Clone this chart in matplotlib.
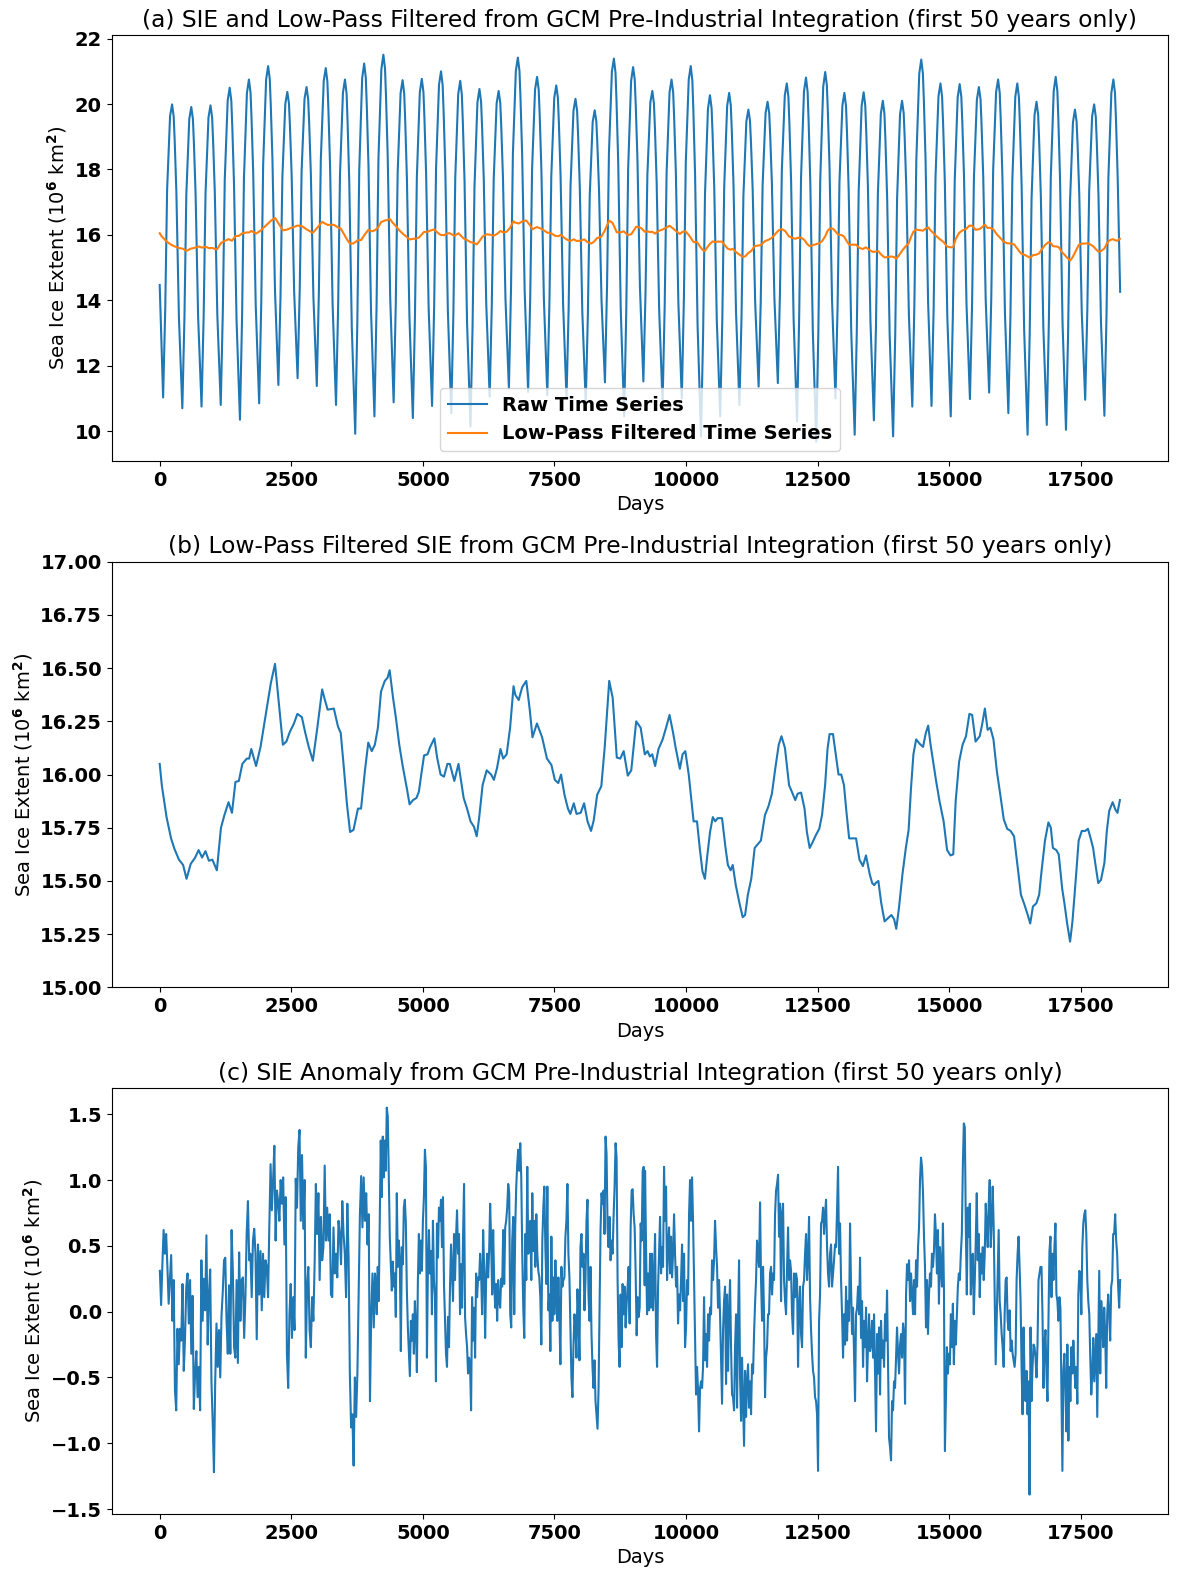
import numpy as np
import matplotlib
matplotlib.use('Agg')
import matplotlib.pyplot as plt

# ---- raw SIE: start value, yearly minima / maxima, end value
raw_start = 14.47
raw_end = 14.26
raw_troughs = [11.03, 10.70, 10.75, 10.80, 10.35, 10.85, 11.41, 11.62, 11.38, 10.80,
               9.92, 10.45, 10.88, 10.40, 10.77, 10.55, 10.14, 11.05, 11.30, 11.20,
               11.10, 11.00, 10.85, 11.49, 10.45,
               11.52, 10.85, 11.00, 9.84, 10.45, 10.80, 11.36, 11.47, 10.30, 9.68,
               11.00, 9.89, 10.33, 9.84, 10.75, 10.77, 10.45, 10.98, 11.18, 10.55,
               9.89, 10.19, 10.04, 10.96, 10.47]
raw_peaks = [19.99, 19.91, 19.96, 20.50, 20.75, 21.16, 20.37, 20.52, 21.10, 20.75,
             21.24, 21.51, 20.73, 20.77, 21.00, 20.71, 20.46, 20.40, 21.42, 20.83,
             20.57, 20.16, 19.81, 21.39, 21.13,
             20.40, 20.75, 21.16, 20.27, 20.34, 19.83, 20.07, 20.63, 20.81, 20.98,
             20.34, 20.36, 20.10, 20.10, 21.36, 20.63, 20.61, 20.52, 20.75, 20.63,
             20.07, 20.83, 19.83, 19.99, 20.75]
first_trough_day = 65
n_days = 18250
# seasonal shape read off the first cycle: days after the yearly minimum and
# position between minimum (0) and maximum (1)
rise_days = [40, 76, 113, 132]
rise_frac = [0.30, 0.71, 0.88, 0.96]
peak_day = 170
fall_days = [201, 220, 252, 300]
fall_frac = [0.96, 0.88, 0.71, 0.30]

# ---- low-pass filtered SIE (panel b)
lp_days = [0, 40, 130, 216, 281, 366, 445, 510, 589, 674, 739, 805, 870, 935, 1001,
           1086, 1164, 1230, 1308, 1373, 1439, 1504, 1570, 1655, 1700, 1740, 1831,
           1916, 2001, 2112, 2191, 2263, 2341, 2407, 2472, 2551, 2616, 2701, 2767,
           2832, 2910, 2995, 3087, 3139, 3191, 3309, 3388, 3440, 3505, 3558, 3617,
           3682, 3767, 3826, 3898, 3963, 4029, 4088, 4146, 4205, 4277, 4330, 4369,
           4434, 4486, 4552, 4617, 4696, 4748, 4813, 4879, 4925, 4970, 5023, 5088,
           5140, 5219, 5271, 5337, 5402, 5467, 5513, 5598, 5677, 5775, 5840, 5906,
           5971, 6023, 6069, 6135, 6213, 6298, 6350, 6409, 6475, 6527, 6592, 6658,
           6723, 6756, 6821, 6887, 6965, 7031, 7083, 7168, 7266, 7358, 7443, 7508,
           7573, 7626, 7691, 7757, 7802, 7868, 7920, 7998, 8064, 8129, 8195, 8247,
           8312, 8391, 8456, 8541, 8607, 8685, 8751, 8816, 8894, 8960,
           9054, 9138, 9217, 9269, 9315, 9360, 9413, 9478, 9556, 9621, 9687, 9752,
           9804, 9883, 9935, 9987, 10052, 10104, 10144, 10209, 10261, 10313, 10359,
           10405, 10457, 10509, 10555, 10601, 10685, 10751, 10796, 10848, 10888,
           10946, 11012, 11077, 11123, 11175, 11240, 11305, 11371, 11423, 11501,
           11566, 11632, 11697, 11762, 11814, 11880, 11958, 12010, 12076, 12121,
           12187, 12252, 12297, 12350, 12402, 12467, 12532, 12585, 12643, 12689,
           12728, 12793, 12846, 12898, 12950, 13002, 13048, 13100, 13231, 13296,
           13361, 13420, 13492, 13538, 13577, 13603, 13655, 13707, 13773, 13838,
           13903, 13955, 13995, 14047, 14112, 14177, 14230, 14275, 14321, 14373,
           14438, 14504, 14556, 14602, 14647, 14699, 14752, 14817, 14895, 14961,
           15026, 15078, 15124, 15189, 15255, 15320, 15385, 15437, 15502, 15581,
           15626, 15679, 15731, 15783, 15842, 15907, 15972, 16037, 16103, 16168,
           16233, 16298, 16364, 16429, 16494, 16540, 16592, 16657, 16710, 16755,
           16821, 16886, 16932, 16971, 17036, 17082, 17147, 17193, 17245, 17298,
           17343, 17408, 17461, 17520, 17585, 17637, 17689, 17735, 17781, 17833,
           17885, 17950, 17996, 18042, 18107, 18159, 18198, 18244]
lp_vals = [16.05, 15.95, 15.80, 15.70, 15.65, 15.60, 15.575, 15.51, 15.58, 15.61,
           15.645, 15.61, 15.64, 15.595, 15.60, 15.55, 15.75, 15.81, 15.87, 15.82,
           15.965, 15.97, 16.05, 16.075, 16.075, 16.12, 16.04, 16.13, 16.26, 16.43,
           16.52, 16.34, 16.14, 16.155, 16.20, 16.24, 16.285, 16.27, 16.195, 16.13,
           16.065, 16.22, 16.40, 16.35, 16.305, 16.31, 16.225, 16.195, 16.015, 15.86,
           15.73, 15.74, 15.84, 15.84, 16.015, 16.15, 16.11, 16.14, 16.22, 16.39,
           16.44, 16.455, 16.49, 16.36, 16.27, 16.14, 16.04, 15.935, 15.86, 15.88,
           15.89, 15.92, 16.00, 16.09, 16.095, 16.13, 16.17, 16.08, 16.00, 15.99,
           16.05, 16.05, 15.97, 16.05, 15.89, 15.84, 15.78, 15.755, 15.71, 15.795,
           15.95, 16.02, 16.00, 15.975, 16.03, 16.12, 16.075, 16.095, 16.22, 16.415,
           16.375, 16.35, 16.41, 16.44, 16.305, 16.175, 16.24, 16.175, 16.075, 16.045,
           15.975, 15.96, 16.00, 15.905, 15.84, 15.815, 15.865, 15.815, 15.82, 15.865,
           15.78, 15.735, 15.785, 15.905, 15.945, 16.13, 16.44, 16.36, 16.08, 16.075,
           16.11, 15.995, 16.02,
           16.25, 16.22, 16.095, 16.11, 16.085, 16.095, 16.04, 16.12, 16.165, 16.22,
           16.28, 16.20, 16.125, 16.027, 16.095, 16.11, 16.00, 15.875, 15.78, 15.78,
           15.655, 15.545, 15.51, 15.62, 15.73, 15.80, 15.78, 15.795, 15.795, 15.655,
           15.575, 15.55, 15.575, 15.48, 15.40, 15.33, 15.34, 15.435, 15.51, 15.655,
           15.675, 15.69, 15.81, 15.85, 15.91, 16.03, 16.14, 16.18, 16.125, 15.95,
           15.92, 15.88, 15.91, 15.915, 15.84, 15.73, 15.655, 15.68, 15.715, 15.745,
           15.81, 15.95, 16.12, 16.19, 16.19, 16.095, 16.00, 16.00, 15.95, 15.825,
           15.70, 15.70, 15.60, 15.57, 15.62, 15.53, 15.49, 15.48, 15.49, 15.50,
           15.40, 15.31, 15.325, 15.34, 15.32, 15.275, 15.375, 15.53, 15.655, 15.74,
           15.935, 16.095, 16.165, 16.145, 16.13, 16.195, 16.23, 16.14, 16.055, 15.97,
           15.875, 15.78, 15.645, 15.62, 15.625, 15.875, 16.06, 16.14, 16.18, 16.285,
           16.28, 16.155, 16.18, 16.235, 16.31, 16.21, 16.22, 16.165, 16.015, 15.905,
           15.79, 15.745, 15.735, 15.71, 15.575, 15.435, 15.39, 15.34, 15.30, 15.38,
           15.395, 15.435, 15.545, 15.69, 15.775, 15.75, 15.655, 15.645, 15.625, 15.465,
           15.39, 15.295, 15.215, 15.31, 15.515, 15.69, 15.735, 15.735, 15.745, 15.70,
           15.655, 15.575, 15.49, 15.505, 15.585, 15.735, 15.83, 15.87, 15.835, 15.82,
           15.88]

# ---- SIE anomaly (panel c), read in four stretches of days
anom_spans = [(3, 4091), (4105, 9215), (9222, 14333), (14352, 18249)]
anom_1 = [0.31, 0.05, 0.36, 0.62, 0.44, 0.59, 0.34, 0.06, 0.24, 0.43, -0.07, 0.24,
          -0.60, -0.75, -0.13, -0.40, -0.13, -0.22, 0.21, -0.45, -0.20, 0.19, 0.29,
          -0.09, 0.24, -0.32, 0.12, -0.74, -0.47, -0.30, -0.65, -0.42, -0.75, 0.39,
          -0.07, 0.25, 0.01, 0.58, -0.25, 0.13, 0.32, -0.53, -0.84, -1.22, -0.53,
          -0.09, -0.42, -0.14, -0.50, -0.03, 0.15, 0.39, 0.41, -0.07, -0.32, 0.20,
          -0.32, 0.62, 0.31, -0.27, -0.35, 0.24, -0.39, 0.45, -0.07, 0.24, 0.26,
          -0.20, 0.11, 0.59, 0.84, 0.39, 0.44, 0.11, 0.54, 0.63, 0.44, -0.21, 0.51,
          0.13, 0.46, 0.01, 0.44, 0.11, 0.39, 0.34, 0.11, 0.65, 1.12, 0.77, 1.00,
          1.26, 0.54, 0.92, 0.84, 0.69, 1.00, 0.82, 1.02, 0.51, 0.87, -0.32, -0.58,
          -0.02, 0.21, -0.20, 0.11, -0.14, 1.01, 0.79, 1.25, 1.38, 0.69, 1.19, 0.63,
          1.00, -0.35, 0.19, 0.34, -0.14, -0.27, 0.11, -0.07, 0.36, 0.97, 0.59, 0.90,
          0.24, 0.72, 0.39, 0.49, 1.11, 0.54, 0.79, 0.54, 0.74, 0.13, 0.11, 0.64,
          0.29, 0.44, 0.26, 0.69, 0.59, 0.36, 0.84, 0.59, 0.44, 0.11, 0.82, 0.41,
          -0.47, -0.88, -0.78, -1.17, -0.50, -0.80, -0.47, 0.11, 0.74, 1.03, 0.64,
          1.02, 0.69, 0.90, 0.51, 0.74, -0.68, -0.02, 0.29, -0.12, 0.29]
anom_2 = [0.24, -0.02, 0.34, 0.08, 0.69, 1.30, 0.87, 1.33, 1.02, 1.30, 1.07, 1.55,
          1.48, 1.02, 0.57, 0.36, 0.16, 0.38, 0.19, 0.29, -0.04, 0.90, 0.34, 0.54,
          0.39, -0.30, 0.49, 0.36, 0.79, 0.85, 0.67, 0.16, -0.12, -0.30, -0.49, -0.07,
          -0.22, -0.02, -0.32, 0.08, -0.12, -0.46, 0.24, 0.59, 0.29, 0.54, 0.31, 0.69,
          0.87, 1.23, 1.10, -0.35, 0.34, 0.62, 0.29, 0.46, -0.02, 0.69, 0.24, 0.11,
          -0.53, 0.67, 0.41, 0.79, 0.69, 0.85, 0.49, 0.87, 0.21, -0.07, -0.32, -0.42,
          -0.04, -0.27, 0.19, 0.51, 0.29, 0.08, 0.59, 0.24, 0.57, 0.77, 0.44, 0.59,
          -0.02, 0.36, 0.03, 0.57, 0.97, -0.04, -0.17, -0.27, -0.47, -0.35, -0.42,
          -0.75, 0.11, -0.22, 0.03, -0.35, 0.29, 0.11, 0.26, 0.24, 0.44, 0.29, -0.02,
          0.62, 0.34, -0.20, 0.24, 0.44, 0.26, 0.46, 0.82, 0.54, 0.13, 0.62, 0.24,
          0.03, 0.21, -0.07, 0.24, 0.08, 0.03, 0.25, 0.19, 0.62, 0.21, 0.64, 0.69,
          0.79, 0.97, 0.90, -0.02, -0.12, 0.54, 0.72, -0.02, 0.64, 0.95, 1.12, 1.23,
          1.07, 1.28, 1.02, 0.44, 0.03, -0.20, 0.59, 0.24, 1.10, 0.44, 0.49, 0.69,
          0.24, 0.90, 0.46, 0.69, 0.34, 0.74, 0.44, 0.31, 0.26, 0.11, -0.25, 0.54,
          0.79, 0.95, 0.49, 0.21, 0.95, 0.01, 0.13, -0.30, 0.57, -0.07, 0.26, -0.02,
          0.39, 0.13, -0.07, 0.26, -0.02, -0.40, 0.34, 0.19, 0.24, 0.26, 0.57, 0.69,
          0.97, 0.44, 0.26, -0.14, -0.50, -0.65, -0.27, -0.02, -0.12, -0.35, 0.17,
          -0.02, -0.37, 0.49, 0.59, 0.34, 0.44, 0.01, 0.24, 0.69, 0.85, 0.13, -0.07,
          0.34, -0.17, -0.42, -0.58, -0.37, -0.68, -0.78, -0.89, -0.60, -0.02, 0.62,
          0.90, 0.82, 0.92, 0.59, 1.33, 1.20, 0.64, 0.49, 0.72, 0.39, 0.54, 0.44,
          0.72, 0.95, 1.28, 1.17, 0.24, -0.22, -0.42, 0.13, -0.27, 0.21, -0.02, 0.19,
          -0.12, 0.06, 0.19, 0.34, -0.09, 0.64, 0.92, 0.93, 0.74, 0.64, 0.29, -0.18,
          0.11, -0.04, 0.03, 0.67, 0.54, 1.07, 1.10, 0.20]
anom_3 = [1.07, 0.49, -0.02, 0.29, 0.01, 0.44, 0.03, 0.44, 0.01, 0.24, 0.59, -0.17,
          -0.42, 0.19, 0.44, 0.72, 0.29, 0.49, 0.34, 1.10, 0.69, 0.95, 0.24, 0.49,
          0.64, 0.29, 0.57, 0.26, 0.44, 0.74, 0.44, 0.19, 0.34, -0.09, 0.13, 0.01,
          0.24, 0.51, 0.08, 0.44, -0.27, -0.12, 0.24, 0.13, 0.74, 1.00, 0.69, 1.02,
          0.69, 0.24, -0.22, -0.63, -0.42, -0.60, -0.91, -0.58, -0.53, -0.58, -0.42,
          0.11, -0.37, -0.17, -0.42, -0.02, -0.22, 0.03, -0.02, 0.39, 0.24, 0.39,
          0.69, 0.49, 0.34, 0.03, 0.24, -0.02, -0.35, -0.70, -0.14, 0.08, 0.19, -0.55,
          0.13, -0.45, -0.02, 0.24, -0.27, -0.63, -0.65, -0.75, -0.27, -0.02, -0.73,
          -0.07, 0.39, -0.50, -0.83, -0.35, -0.68, -1.02, -0.45, -0.80, -0.53, -0.40,
          -0.73, -0.53, -0.78, -0.40, -0.47, -0.17, 0.06, 0.24, 0.54, 0.44, 0.34,
          0.83, 0.24, -0.07, 0.34, -0.02, -0.65, -0.35, -0.27, -0.02, -0.02, 0.29,
          0.34, 0.13, 0.29, 0.24, 0.74, 0.92, 0.97, 1.04, 0.57, 0.82, 0.08, 0.74,
          0.82, 0.24, 0.08, -0.02, 0.34, 0.64, 0.24, 0.39, 0.31, -0.02, -0.17, 0.29,
          0.11, 0.29, 0.24, -0.42, 0.03, 0.19, -0.17, -0.27, 0.19, 0.24, 0.44, 0.59,
          0.24, 0.41, 0.72, 0.11, -0.14, -0.32, -0.45, -0.50, -0.65, -0.68, -0.78,
          -1.21, -0.07, 0.13, 0.67, 0.69, 0.79, 0.59, 0.74, 0.85, 0.49, 0.29, 0.19,
          0.44, 0.51, 0.19, 0.29, 0.39, 0.51, 0.49, 0.77, 1.10, 0.44, 0.67, 0.24,
          -0.02, -0.35, -0.02, -0.25, 0.19, -0.22, 0.08, -0.07, 0.67, 0.19, -0.17,
          0.03, -0.32, -0.68, -0.02, 0.03, 0.19, -0.02, 0.41, -0.20, 0.08, -0.42,
          -0.07, -0.27, 0.03, -0.53, -0.25, -0.02, -0.30, -0.25, -0.07, -0.35, -0.02,
          -0.47, -0.91, -0.17, -0.47, -0.12, -0.63, -0.07, -0.35, -0.22, -0.42, -0.02,
          -0.22, 0.16, -0.40, -0.96, -1.03, -1.13, -0.68, -0.75, -0.53, -0.58, -0.35,
          -0.12, -0.32, -0.47, -0.25, -0.17, -0.35, -0.09, -0.17, -0.70, 0.13, 0.36,
          0.24, 0.39, 0.08, 0.29, 0.13, -0.02, 0.24]
anom_4 = [-0.02, 0.39, 0.19, 0.49, 0.64, 1.00, 1.17, 1.10, 0.90, 0.57, 0.34, -0.12,
          0.24, -0.17, 0.13, 0.29, 0.19, 0.44, 0.34, 0.46, 0.74, 0.59, 0.29, 0.62,
          0.06, 0.49, 0.34, 0.19, 0.67, 0.19, -1.06, -0.65, -0.27, -0.47, -0.32,
          -0.40, -0.02, -0.27, 0.06, -0.40, -0.07, -0.25, -0.02, 0.19, 0.29, 0.24,
          0.44, 0.59, 1.10, 1.43, 1.40, 0.64, 0.13, 0.79, 0.57, 0.82, 0.13, 0.34,
          0.44, -0.02, 0.24, 0.54, 0.90, 0.39, 0.59, 0.11, 0.44, 0.29, 0.49, 0.24,
          0.44, 0.82, 0.64, 0.49, 0.82, 1.00, 0.49, 0.69, 0.95, 0.64, 0.13, -0.40,
          -0.07, 0.24, 0.62, 0.08, -0.02, -0.17, -0.27, -0.42, -0.02, 0.24, 0.26,
          -0.07, -0.14, 0.01, -0.30, -0.22, -0.32, -0.37, -0.42, -0.32, 0.24, 0.44,
          0.57, 0.34, 0.08, -0.42, -0.78, -0.12, -0.50, -0.68, -0.45, -0.78, -0.53,
          -1.39, -0.12, -0.68, -0.42, -0.25, -0.27, -0.35, -0.50, -0.25, 0.24, 0.29,
          0.34, 0.34, -0.02, -0.58, -0.25, -0.14, -0.47, -0.68, -0.07, 0.46, 0.57,
          0.11, 0.44, 0.24, 0.49, 0.67, 0.13, 0.08, -0.07, 0.11, 0.03, -0.58, -1.21,
          -0.45, -0.32, -0.58, -0.91, -0.25, -0.98, -0.42, -0.68, -0.27, -0.47, -0.22,
          -0.42, -0.58, -0.42, -0.70, 0.13, 0.31, 0.29, -0.02, 0.49, 0.67, 0.74, 0.77,
          0.59, 0.24, 0.08, -0.02, -0.35, -0.63, -0.47, -0.20, -0.53, -0.35, -0.17,
          -0.80, -0.27, 0.31, -0.47, 0.08, -0.07, -0.27, 0.03, -0.17, -0.58, -0.02,
          0.13, -0.02, -0.22, 0.19, 0.24, 0.59, 0.59, 0.74, 0.54, 0.44, 0.19, 0.03,
          0.24]

# build the raw series: yearly min, rising limb, max, falling limb
raw_days = [0]
raw_vals = [raw_start]
n_years = len(raw_peaks)
for k in range(n_years):
    t0 = first_trough_day + 365 * k
    lo, hi = raw_troughs[k], raw_peaks[k]
    lo_next = raw_troughs[k + 1] if k + 1 < n_years else lo
    raw_days.append(t0)
    raw_vals.append(lo)
    for d, f in zip(rise_days, rise_frac):
        raw_days.append(t0 + d)
        raw_vals.append(lo + f * (hi - lo))
    raw_days.append(t0 + peak_day)
    raw_vals.append(hi)
    for d, f in zip(fall_days, fall_frac):
        if t0 + d < n_days - 1:
            raw_days.append(t0 + d)
            raw_vals.append(lo_next + f * (hi - lo_next))
raw_days.append(n_days - 1)
raw_vals.append(raw_end)

anom_days, anom_vals = [], []
for (d0, d1), seg in zip(anom_spans, [anom_1, anom_2, anom_3, anom_4]):
    anom_days.extend(np.linspace(d0, d1, len(seg)))
    anom_vals.extend(seg)

ylab = r'Sea Ice Extent (10$^{\mathbf{6}}$ km$^{\mathbf{2}}$)'
plt.rcParams['font.size'] = 14
plt.rcParams['font.weight'] = 'bold'

fig = plt.figure(figsize=(11.78, 15.77), dpi=100)
left, width, height = 0.0948, 0.8969, 0.2699
ax1 = fig.add_axes([left, 0.7077, width, height])
ax2 = fig.add_axes([left, 0.3739, width, height])
ax3 = fig.add_axes([left, 0.0400, width, height])

ax1.plot(raw_days, raw_vals, label='Raw Time Series')
ax1.plot(lp_days, lp_vals, label='Low-Pass Filtered Time Series')
ax1.legend(loc='lower center', prop={'weight': 'bold', 'size': 14})
ax1.set_title('(a) SIE and Low-Pass Filtered from GCM Pre-Industrial Integration (first 50 years only)',
              fontweight='normal')

ax2.plot(lp_days, lp_vals)
ax2.set_ylim(15, 17)
ax2.set_title('(b) Low-Pass Filtered SIE from GCM Pre-Industrial Integration (first 50 years only)',
              fontweight='normal')

ax3.plot(anom_days, anom_vals)
ax3.set_title('(c) SIE Anomaly from GCM Pre-Industrial Integration (first 50 years only)',
              fontweight='normal')

for ax in (ax1, ax2, ax3):
    ax.set_xlim(-0.05 * n_days, 1.05 * n_days)
    ax.set_xlabel('Days', fontweight='normal')
    ax.set_ylabel(ylab, fontweight='normal')

fig.savefig('out.png', dpi=100)
